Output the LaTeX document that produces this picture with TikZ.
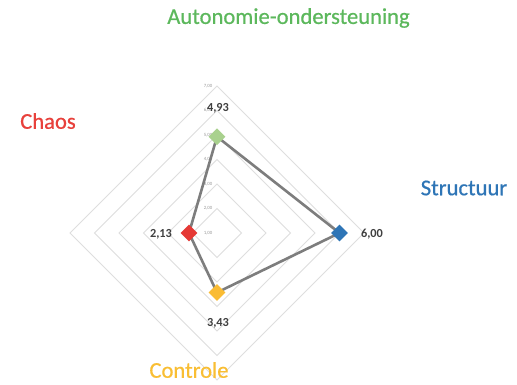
\documentclass[tikz,border=0pt]{standalone}
\usepackage{fontspec}
\setmainfont{Carlito}
\usetikzlibrary{shapes.geometric,calc}
\definecolor{cgreen}{RGB}{92,184,92}
\definecolor{cred}{RGB}{232,65,60}
\definecolor{cblue}{RGB}{46,117,182}
\definecolor{corange}{RGB}{249,190,51}
\definecolor{mgreen}{RGB}{169,209,142}
\definecolor{mred}{RGB}{229,57,53}
\definecolor{mblue}{RGB}{46,117,182}
\definecolor{myellow}{RGB}{250,188,52}
\definecolor{gridgray}{RGB}{222,222,222}
\definecolor{linegray}{RGB}{125,125,125}
\definecolor{valgray}{RGB}{64,64,64}
\tikzset{
  marker/.style={diamond, aspect=1, minimum size=17pt, inner sep=0pt, draw=none},
  catlabel/.style={font=\addfontfeature{FakeBold=0.6}\fontsize{22.6}{25}\selectfont, inner sep=0pt},
  vallabel/.style={font=\bfseries\fontsize{12.3}{14}\selectfont, text=valgray, inner sep=0pt},
  ticklabel/.style={font=\fontsize{4.8}{5}\selectfont, text=gray!80, inner sep=0pt},
  gridline/.style={draw=gridgray, line width=0.9pt},
  dataline/.style={draw=linegray, line width=2.6pt, line join=round}
}
\begin{document}
\begin{tikzpicture}[x=1pt,y=-1pt]
\useasboundingbox[fill=white] (0,0) rectangle (517,384);
\coordinate (c) at (217,233);
% grid diamonds
\foreach \k in {1,...,6}{
  \pgfmathsetmacro{\r}{24.5*\k}
  \draw[gridline] ($(c)+(0,-\r)$) -- ($(c)+(\r,0)$) -- ($(c)+(0,\r)$) -- ($(c)+(-\r,0)$) -- cycle;
}
% tick labels
\foreach \k in {1,...,7}{
  \pgfmathsetmacro{\yy}{233-24.5*(\k-1)}
  \node[ticklabel] (t\k) at (208,\yy) {\k,00};
}
% data polygon markers
\node[marker] (auto) at (217,136.7) {};
\node[marker] (struct) at (339.5,233) {};
\node[marker] (contr) at (217,292.5) {};
\node[marker] (chaos) at (189,233) {};
\draw[dataline] (auto.center) -- (struct.center) -- (contr.center) -- (chaos.center) -- cycle;
\node[marker, fill=mgreen] at (auto) {};
\node[marker, fill=mblue] at (struct) {};
\node[marker, fill=myellow] at (contr) {};
\node[marker, fill=mred] at (chaos) {};
% value labels
\node[vallabel] (v1) at (218,108) {4,93};
\node[vallabel] (v2) at (372,234) {6,00};
\node[vallabel] (v3) at (218,323) {3,43};
\node[vallabel] (v4) at (161,234) {2,13};
% category labels
\node[catlabel, text=cgreen] (l1) at (288.5,18) {Autonomie-ondersteuning};
\node[catlabel, text=cred] (l2) at (48,121) {Chaos};
\node[catlabel, text=cblue] (l3) at (464,188) {Structuur};
\node[catlabel, text=corange] (l4) at (189,370) {Controle};
\end{tikzpicture}
\end{document}
